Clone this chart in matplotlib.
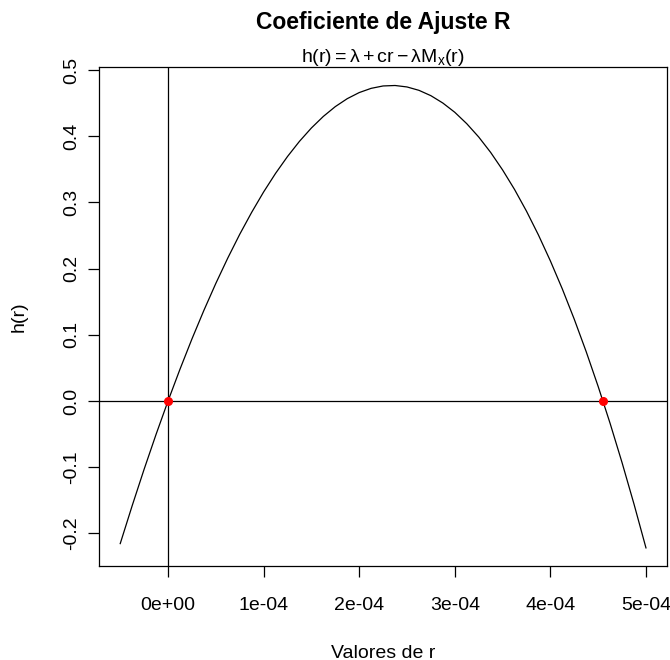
import matplotlib
matplotlib.use("Agg")
import matplotlib.pyplot as plt

plt.rcParams['font.family'] = ['Liberation Sans', 'DejaVu Sans']
plt.rcParams['mathtext.fontset'] = 'custom'
plt.rcParams['mathtext.rm'] = 'Liberation Sans'
plt.rcParams['mathtext.it'] = 'Liberation Sans'
plt.rcParams['mathtext.bf'] = 'Liberation Sans:bold'

# Data
r_values = [-5.0e-05, -3.75e-05, -2.5e-05, -1.25e-05, 0.0, 1.25e-05, 2.5e-05, 3.75e-05,
            5.0e-05, 6.25e-05, 7.5e-05, 8.75e-05, 1.0e-04, 1.125e-04, 1.25e-04, 1.375e-04,
            1.5e-04, 1.625e-04, 1.75e-04, 1.875e-04, 2.0e-04, 2.125e-04, 2.25e-04, 2.375e-04,
            2.5e-04, 2.625e-04, 2.75e-04, 2.875e-04, 3.0e-04, 3.125e-04, 3.25e-04, 3.375e-04,
            3.5e-04, 3.625e-04, 3.75e-04, 3.875e-04, 4.0e-04, 4.125e-04, 4.25e-04, 4.375e-04,
            4.5e-04, 4.625e-04, 4.75e-04, 4.875e-04, 5.0e-04]
h_values = [-0.2155, -0.1582, -0.1031, -0.0504, 0.0, 0.0480, 0.0937, 0.1369,
            0.1777, 0.2160, 0.2519, 0.2851, 0.3159, 0.3440, 0.3695, 0.3924,
            0.4126, 0.4301, 0.4449, 0.4569, 0.4661, 0.4725, 0.4761, 0.4768,
            0.4746, 0.4695, 0.4614, 0.4503, 0.4363, 0.4191, 0.3990, 0.3757,
            0.3492, 0.3197, 0.2869, 0.2509, 0.2117, 0.1693, 0.1235, 0.0744,
            0.0219, -0.0339, -0.0932, -0.1559, -0.2220]
roots_r = [0.0, 4.55e-04]
roots_h = [0.0, 0.0]

x_ticks = [0.0, 1e-04, 2e-04, 3e-04, 4e-04, 5e-04]
x_tick_labels = ['0e+00', '1e-04', '2e-04', '3e-04', '4e-04', '5e-04']
y_ticks = [-0.2, -0.1, 0.0, 0.1, 0.2, 0.3, 0.4, 0.5]
y_tick_labels = ['-0.2', '-0.1', '0.0', '0.1', '0.2', '0.3', '0.4', '0.5']

title = 'Coeficiente de Ajuste R'
subtitle = r'$\mathrm{h(r) = \lambda + cr - \lambda M_x(r)}$'
xlabel = 'Valores de r'
ylabel = 'h(r)'

W, H = 670, 660
fig = plt.figure(figsize=(W / 100, H / 100), dpi=100)
ax = fig.add_axes([99.2 / W, 1 - 566.4 / H, (667 - 99.2) / W, (566.4 - 67) / H])

ax.plot(r_values, h_values, color='black', lw=0.9)
ax.axhline(0, color='black', lw=0.9)
ax.axvline(0, color='black', lw=0.9)
ax.plot(roots_r, roots_h, 'o', color='red', markersize=5.5, zorder=5)

xr = max(r_values) - min(r_values)
yr = max(h_values) - min(h_values)
ax.set_xlim(min(r_values) - 0.04 * xr, max(r_values) + 0.04 * xr)
ax.set_ylim(min(h_values) - 0.04 * yr, max(h_values) + 0.04 * yr)

ax.set_xticks(x_ticks)
ax.set_xticklabels(x_tick_labels)
ax.set_yticks(y_ticks)
ax.set_yticklabels(y_tick_labels, rotation=90, va='center')
ax.tick_params(axis='both', direction='out', length=8, width=0.9, labelsize=14,
               colors='black')
ax.tick_params(axis='x', pad=14)
ax.tick_params(axis='y', pad=6)
for s in ax.spines.values():
    s.set_linewidth(0.9)

ax.set_xlabel(xlabel, fontsize=14, labelpad=22)
ax.set_ylabel(ylabel, fontsize=14, labelpad=25)

cx = (99.2 + 667) / 2 / W
fig.text(cx, 1 - 22 / H, title, fontsize=16.5, fontweight='bold', ha='center', va='center')
fig.text(cx, 1 - 57 / H, subtitle, fontsize=14, ha='center', va='center')

fig.savefig('out.png', dpi=100)
